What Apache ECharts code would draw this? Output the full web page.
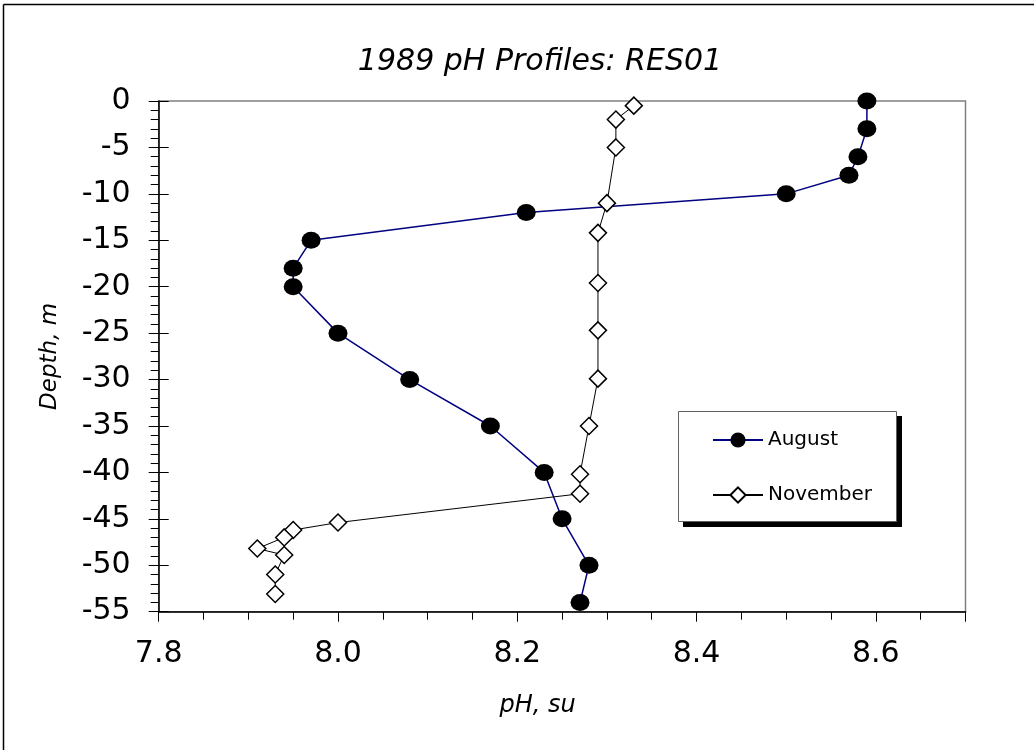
<!DOCTYPE html>
<html>
<head>
<meta charset="utf-8">
<script src="https://cdn.jsdelivr.net/npm/echarts@6/dist/echarts.min.js"></script>
<style>
html,body{margin:0;padding:0;background:#fff;}
#chart{width:1034px;height:750px;}
</style>
</head>
<body>
<div id="chart"></div>
<script>
const chartTitle = '1989 pH Profiles: RES01';
const xAxisName = 'pH, su';
const yAxisName = 'Depth, m';
const seriesNames = ['August', 'November'];

const augustPH    = [8.59, 8.59, 8.58, 8.57, 8.50, 8.21, 7.97, 7.95, 7.95, 8.00, 8.08, 8.17, 8.23, 8.25, 8.28, 8.27];
const augustDepth = [0, -3, -6, -8, -10, -12, -15, -18, -20, -25, -30, -35, -40, -45, -50, -54];

const novemberPH    = [8.33, 8.31, 8.31, 8.30, 8.29, 8.29, 8.29, 8.29, 8.28, 8.27, 8.27, 8.00, 7.95, 7.94, 7.91, 7.94, 7.93, 7.93];
const novemberDepth = [-0.5, -2, -5, -11, -14.2, -19.6, -24.7, -29.9, -35, -40.2, -42.3, -45.4, -46.2, -47, -48.2, -48.9, -51, -53.1];

const xMin = 7.8, xMax = 8.7, xStep = 0.2;
const yMin = -55, yMax = 0, yStep = 5;

const FONT = '"DejaVu Sans", "Liberation Sans", Arial, sans-serif';

function pairs(xs, ys) { return xs.map((x, i) => [x, ys[i]]); }

const chart = echarts.init(document.getElementById('chart'), null, {renderer: 'canvas'});

const option = {
  backgroundColor: '#ffffff',
  animation: false,
  title: {
    text: chartTitle,
    left: 535,
    top: 42,
    textAlign: 'center',
    textStyle: {fontFamily: FONT, fontSize: 30, fontStyle: 'italic', fontWeight: 'normal', color: '#000'}
  },
  grid: {
    left: 158.7, right: 68.5, top: 101, bottom: 138.3,
    show: true, borderColor: '#808080', borderWidth: 1.5, backgroundColor: 'transparent'
  },
  legend: {
    orient: 'vertical',
    left: 678, top: 411,
    padding: [19, 25, 21, 34],
    itemWidth: 50, itemHeight: 19, itemGap: 35,
    backgroundColor: 'transparent',
    borderWidth: 0,
    textStyle: {fontFamily: FONT, fontSize: 20, color: '#000'},
    data: seriesNames,
    z: 10
  },
  xAxis: {
    type: 'value', min: xMin, max: xMax, interval: xStep,
    name: xAxisName, nameLocation: 'middle', nameGap: 82,
    nameTextStyle: {fontFamily: FONT, fontSize: 24, fontStyle: 'italic', color: '#000', padding: [0, 49, 0, 0]},
    axisLine: {show: true, onZero: false, lineStyle: {color: '#000', width: 1.5}},
    axisTick: {show: true, inside: false, length: 10, lineStyle: {color: '#000', width: 1}},
    minorTick: {show: true, splitNumber: 4, length: 8, lineStyle: {color: '#000', width: 1}},
    splitLine: {show: false},
    axisLabel: {fontFamily: FONT, fontSize: 30, color: '#000', margin: 28, showMaxLabel: false,
      formatter: v => (Math.abs(v - xMax) < 1e-9 ? '' : v.toFixed(1))}
  },
  yAxis: [{
    type: 'value', min: yMin, max: yMax, interval: yStep,
    name: yAxisName, nameLocation: 'middle', nameGap: 97, nameRotate: 90,
    nameTextStyle: {fontFamily: FONT, fontSize: 23, fontStyle: 'italic', color: '#000'},
    axisLine: {show: true, onZero: false, lineStyle: {color: '#000', width: 1.5}},
    axisTick: {show: true, inside: false, length: 10, lineStyle: {color: '#000', width: 1}},
    minorTick: {show: true, splitNumber: 5, length: 8, lineStyle: {color: '#000', width: 1}},
    splitLine: {show: false},
    axisLabel: {fontFamily: FONT, fontSize: 30, color: '#000', margin: 28}
  }, {
    type: 'value', min: yMin, max: yMax, interval: yStep, position: 'left', offset: 0,
    axisLine: {show: false},
    axisTick: {show: true, inside: true, length: 10, lineStyle: {color: '#000', width: 1}},
    axisLabel: {show: false},
    splitLine: {show: false}
  }],
  graphic: [
    {type: 'line', shape: {x1: 3.5, y1: 4.5, x2: 1034, y2: 4.5}, style: {stroke: '#000', lineWidth: 1.5}},
    {type: 'line', shape: {x1: 3.5, y1: 4.5, x2: 3.5, y2: 750}, style: {stroke: '#000', lineWidth: 1.5}},
    {type: 'rect', z: 5, shape: {x: 683, y: 416, width: 219, height: 111}, style: {fill: '#000'}},
    {type: 'rect', z: 6, shape: {x: 678.5, y: 411.5, width: 218, height: 110}, style: {fill: '#fff', stroke: '#606060', lineWidth: 1}}
  ],
  series: [{
    name: seriesNames[0],
    type: 'line',
    data: pairs(augustPH, augustDepth),
    clip: false,
    symbol: 'circle', symbolSize: [19, 17],
    lineStyle: {color: '#000080', width: 1.5},
    itemStyle: {color: '#000000', borderColor: '#000000', borderWidth: 0},
    z: 3
  }, {
    name: seriesNames[1],
    type: 'line',
    data: pairs(novemberPH, novemberDepth),
    clip: false,
    symbol: 'diamond', symbolSize: [17, 17],
    lineStyle: {color: '#000000', width: 1},
    itemStyle: {color: '#ffffff', borderColor: '#000000', borderWidth: 1.5},
    z: 4
  }]
};
chart.setOption(option);
</script>
</body>
</html>
